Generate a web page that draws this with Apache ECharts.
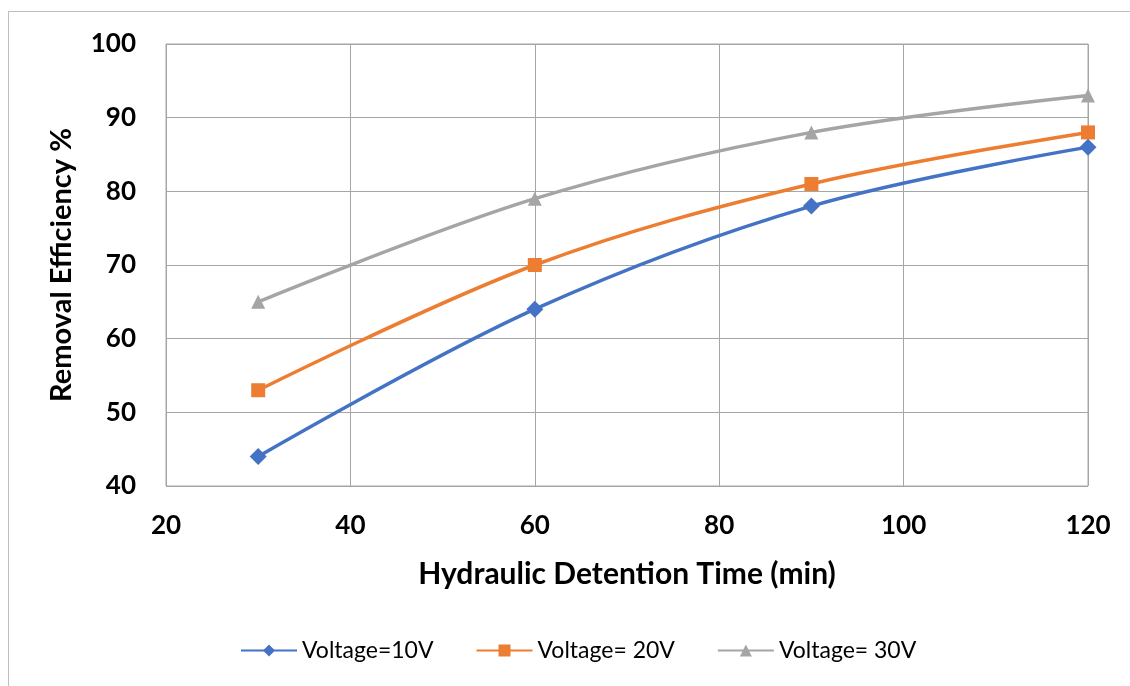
<!DOCTYPE html>
<html>
<head>
<meta charset="utf-8">
<script src="https://cdn.jsdelivr.net/npm/echarts@6/dist/echarts.min.js"></script>
<style>
  html, body { margin: 0; padding: 0; background: #fff; }
  #frame { position: absolute; left: 8px; top: 11px; width: 1140px; height: 700px; border: 1px solid #bfbfbf; }
  #main { position: absolute; left: 0; top: 0; width: 1130px; height: 686px; }
</style>
</head>
<body>
<div id="frame"></div>
<div id="main"></div>
<script>
  var xValues = [30, 60, 90, 120];
  var v10 = [44, 64, 78, 86];
  var v20 = [53, 70, 81, 88];
  var v30 = [65, 79, 88, 93];
  var seriesNames = ['Voltage=10V', 'Voltage= 20V', 'Voltage= 30V'];

  function pairs(ys) {
    return xValues.map(function (x, i) { return [x, ys[i]]; });
  }

  var chart = echarts.init(document.getElementById('main'));
  var font = 'Lato, "Open Sans", sans-serif';

  function line(name, ys, color, symbol, size) {
    return {
      name: name,
      type: 'line',
      data: pairs(ys),
      smooth: 0.35,
      symbol: symbol,
      symbolSize: size,
      lineStyle: { color: color, width: 3.5 },
      itemStyle: { color: color },
      z: 3
    };
  }

  chart.setOption({
    animation: false,
    grid: { left: 166, right: 42, top: 44, bottom: 200, show: true, borderColor: '#a6a6a6', borderWidth: 1 },
    legend: {
      bottom: 19,
      left: 235,
      itemWidth: 56,
      itemHeight: 15,
      itemGap: 42,
      textStyle: { fontFamily: font, fontSize: 23, color: '#000' },
      data: seriesNames
    },
    xAxis: {
      type: 'value',
      min: 20, max: 120, interval: 20,
      name: 'Hydraulic Detention Time (min)',
      nameLocation: 'middle',
      nameGap: 73,
      nameTextStyle: { fontFamily: font, fontSize: 30, fontWeight: 'bold', color: '#000' },
      axisLine: { show: false },
      axisTick: { show: false },
      axisLabel: { margin: 27, fontFamily: font, fontSize: 26, fontWeight: 'bold', color: '#000' },
      splitLine: { lineStyle: { color: '#a6a6a6', width: 1 } }
    },
    yAxis: {
      type: 'value',
      min: 40, max: 100, interval: 10,
      name: 'Removal Efficiency %',
      nameLocation: 'middle',
      nameGap: 90,
      nameTextStyle: { fontFamily: font, fontSize: 29, fontWeight: 'bold', color: '#000' },
      axisLine: { show: false },
      axisTick: { show: false },
      axisLabel: { margin: 30, fontFamily: font, fontSize: 26, fontWeight: 'bold', color: '#000' },
      splitLine: { lineStyle: { color: '#a6a6a6', width: 1 } }
    },
    series: [
      line(seriesNames[0], v10, '#4472C4', 'diamond', 17),
      line(seriesNames[1], v20, '#ED7D31', 'rect', 14),
      line(seriesNames[2], v30, '#A5A5A5', 'triangle', 14)
    ]
  });
</script>
</body>
</html>
